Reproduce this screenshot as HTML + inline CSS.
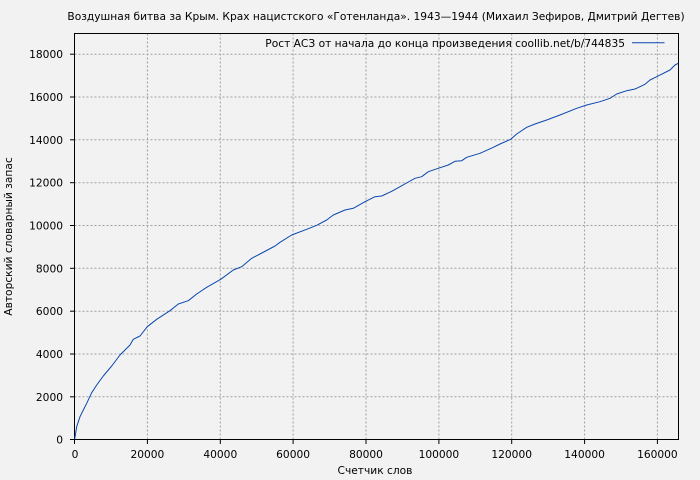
<!DOCTYPE html>
<html><head><meta charset="utf-8">
<style>
html,body{margin:0;padding:0;background:#f2f2f2;}
svg{display:block;}
text{font-family:"DejaVu Sans","Liberation Sans",sans-serif;font-size:10.65px;fill:#000;}
</style></head>
<body>
<svg width="700" height="480" viewBox="0 0 700 480" xmlns="http://www.w3.org/2000/svg">
<rect x="0" y="0" width="700" height="480" fill="#f2f2f2"/>
<g stroke="#a0a0a0" stroke-width="1" stroke-dasharray="2,2" fill="none">
<line x1="74.5" y1="396.8" x2="678.5" y2="396.8"/>
<line x1="74.5" y1="354" x2="678.5" y2="354"/>
<line x1="74.5" y1="311.2" x2="678.5" y2="311.2"/>
<line x1="74.5" y1="268.3" x2="678.5" y2="268.3"/>
<line x1="74.5" y1="225.5" x2="678.5" y2="225.5"/>
<line x1="74.5" y1="182.7" x2="678.5" y2="182.7"/>
<line x1="74.5" y1="139.8" x2="678.5" y2="139.8"/>
<line x1="74.5" y1="97" x2="678.5" y2="97"/>
<line x1="74.5" y1="54.2" x2="678.5" y2="54.2"/>
<line x1="147.4" y1="33.5" x2="147.4" y2="439.5"/>
<line x1="220.3" y1="33.5" x2="220.3" y2="439.5"/>
<line x1="293.1" y1="33.5" x2="293.1" y2="439.5"/>
<line x1="366" y1="33.5" x2="366" y2="439.5"/>
<line x1="438.9" y1="33.5" x2="438.9" y2="439.5"/>
<line x1="511.7" y1="33.5" x2="511.7" y2="439.5"/>
<line x1="584.6" y1="33.5" x2="584.6" y2="439.5"/>
<line x1="657.4" y1="33.5" x2="657.4" y2="439.5"/>
</g>
<rect x="74.5" y="33.5" width="604" height="406" fill="none" stroke="#000" stroke-width="1"/>
<g stroke="#000" stroke-width="1">
<line x1="70" y1="439.5" x2="74.5" y2="439.5"/>
<line x1="70" y1="396.8" x2="74.5" y2="396.8"/>
<line x1="70" y1="354" x2="74.5" y2="354"/>
<line x1="70" y1="311.2" x2="74.5" y2="311.2"/>
<line x1="70" y1="268.3" x2="74.5" y2="268.3"/>
<line x1="70" y1="225.5" x2="74.5" y2="225.5"/>
<line x1="70" y1="182.7" x2="74.5" y2="182.7"/>
<line x1="70" y1="139.8" x2="74.5" y2="139.8"/>
<line x1="70" y1="97" x2="74.5" y2="97"/>
<line x1="70" y1="54.2" x2="74.5" y2="54.2"/>
<line x1="74.5" y1="439.5" x2="74.5" y2="444"/>
<line x1="147.4" y1="439.5" x2="147.4" y2="444"/>
<line x1="220.3" y1="439.5" x2="220.3" y2="444"/>
<line x1="293.1" y1="439.5" x2="293.1" y2="444"/>
<line x1="366" y1="439.5" x2="366" y2="444"/>
<line x1="438.9" y1="439.5" x2="438.9" y2="444"/>
<line x1="511.7" y1="439.5" x2="511.7" y2="444"/>
<line x1="584.6" y1="439.5" x2="584.6" y2="444"/>
<line x1="657.4" y1="439.5" x2="657.4" y2="444"/>
</g>
<g text-anchor="end">
<text x="63" y="443.5">0</text>
<text x="63" y="400.8">2000</text>
<text x="63" y="358">4000</text>
<text x="63" y="315.2">6000</text>
<text x="63" y="272.3">8000</text>
<text x="63" y="229.5">10000</text>
<text x="63" y="186.7">12000</text>
<text x="63" y="143.8">14000</text>
<text x="63" y="101">16000</text>
<text x="63" y="58.2">18000</text>
</g>
<g text-anchor="middle">
<text x="75" y="458">0</text>
<text x="147.4" y="458">20000</text>
<text x="220.3" y="458">40000</text>
<text x="293.1" y="458">60000</text>
<text x="366" y="458">80000</text>
<text x="438.9" y="458">100000</text>
<text x="511.7" y="458">120000</text>
<text x="584.6" y="458">140000</text>
<text x="657.4" y="458">160000</text>
<text x="376" y="20">Воздушная битва за Крым. Крах нацистского «Готенланда». 1943—1944 (Михаил Зефиров, Дмитрий Дегтев)</text>
<text x="375" y="474">Счетчик слов</text>
<text transform="translate(12,236.5) rotate(-90)">Авторский словарный запас</text>
</g>
<text x="625" y="47" text-anchor="end">Рост АСЗ от начала до конца произведения coollib.net/b/744835</text>
<line x1="632" y1="42.7" x2="664.5" y2="42.7" stroke="#0a47b0" stroke-width="1"/>
<polyline fill="none" stroke="#0a47b0" stroke-width="1" stroke-linejoin="round" points="
74.7,439 76.7,426.7 80,416.7 83.3,410 86.7,403.3 91.7,392.7 96.7,385 103.3,376 111.7,366 120,355 130,345 133.3,339.3 140,336 147.3,326.7 156.7,319.3 170,310.7 178.3,304 188.3,300.7 196.7,294 206.7,287.3 220.7,279.3 233.3,270 241.7,266.7 251.7,258.3 260,254 275,246 280,242.3 291.7,235 306.7,229.3 316.7,225.3 326.7,220 333.3,215 345,210 353.3,208.3 365,201.7 375,196.7 381.7,196 391.7,191.3 400,186.7 408.3,182 415,178.3 421.7,176.7 428.3,171.7 438.3,168.3 448.3,165 455,161.3 461.7,160.7 466.7,157.3 480,153.3 493.3,147.3 500,144 510.7,139.3 516.7,134 526.7,127.3 535,124 546.7,120 560,115 576.7,108.3 586.7,105 600,101.7 610,98.3 616.7,94 626.7,90.7 635,89 645,84.3 650,80 656.7,76.7 670,70 675,65 678.3,63.3"/>
</svg>
</body></html>
